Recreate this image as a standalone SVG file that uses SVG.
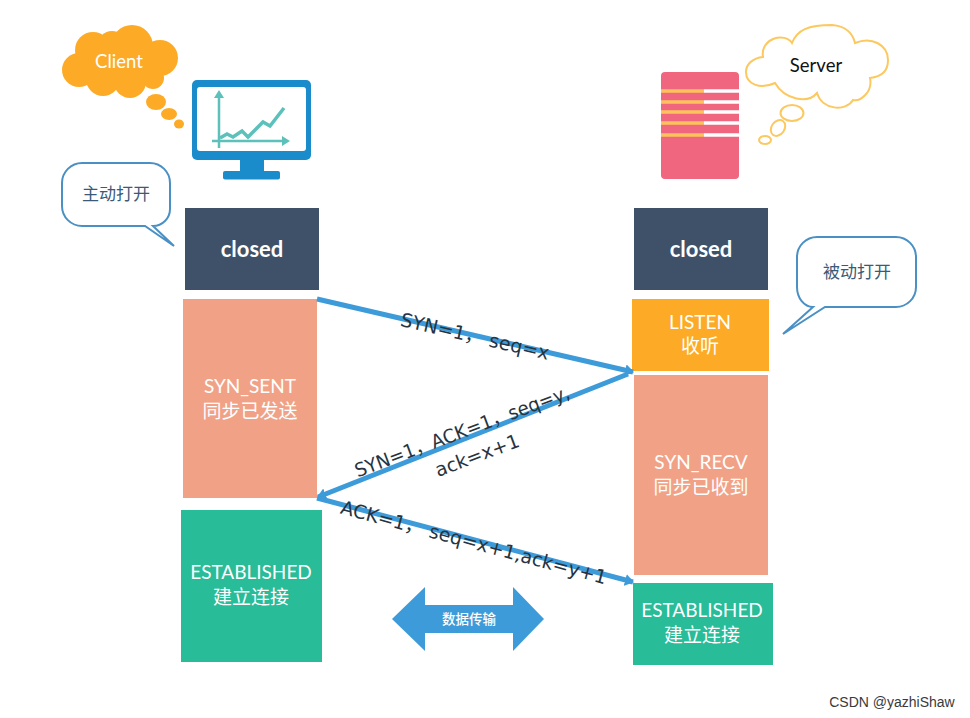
<svg xmlns="http://www.w3.org/2000/svg" width="970" height="718" viewBox="0 0 970 718">
<defs>
<marker id="ah" markerUnits="userSpaceOnUse" markerWidth="10" markerHeight="12" refX="8" refY="6" orient="auto"><path d="M0,0 L9,6 L0,12 Z" fill="#3d9bd9"/></marker>
</defs>
<style>
text{font-family:Lato,"Noto Sans CJK SC",sans-serif;text-anchor:middle}
.w{fill:#fff;font-size:19px}
.t{fill:#fff;font-size:22px;font-weight:700}
.l{fill:#27343f;font-size:19px;font-family:"DejaVu Sans","Noto Sans CJK SC",sans-serif}
.c{fill:#3a5a78;font-size:17px}
.call{fill:#fff;stroke:#4a90c4;stroke-width:2}
.conn{fill:none;stroke:#3d9bd9;stroke-width:5;marker-end:url(#ah)}
</style>
<rect width="970" height="718" fill="#fff"/>
<g id="client-cloud" fill="#fdab27">
<circle cx="79" cy="70" r="17"/><circle cx="93" cy="50" r="18"/><circle cx="112" cy="45" r="14"/><circle cx="132" cy="46" r="21"/><circle cx="160" cy="58" r="18"/><circle cx="153" cy="78" r="11"/><circle cx="130" cy="82" r="16"/><circle cx="103" cy="79" r="17"/><circle cx="115" cy="63" r="27"/><circle cx="140" cy="66" r="20"/>
<ellipse cx="156" cy="102" rx="10" ry="8"/><ellipse cx="169" cy="114" rx="8" ry="6"/><ellipse cx="179" cy="124" rx="5" ry="4.500"/>
<text x="119" y="68" style="fill:#fff;font-size:18.500px">Client</text>
</g>
<g id="monitor">
<rect x="192" y="80" width="119" height="80" rx="5" fill="#1a8ccb"/>
<rect x="197" y="87" width="109" height="64" rx="3" fill="#fff"/>
<rect x="240" y="159" width="24" height="13" fill="#1a8ccb"/><rect x="223" y="171" width="57" height="8.500" rx="2" fill="#1a8ccb"/>
<g fill="none" stroke="#5cc0bb">
<path d="M219,94 V148 M212,141 H286" stroke-width="2.500"/>
<path d="M220,138 L227,134 L233,137 L242,131 L248,137 L263,122 L270,126 L284,108" stroke-width="3.500"/>
</g>
<path d="M219,90 L224,98 H214 Z M290,141 L282,136 V146 Z" fill="#5cc0bb"/>
</g>
<g id="server">
<rect x="661" y="72" width="78" height="107" rx="4" fill="#f0667f"/>
<g stroke-width="3.500"><path d="M661,91 H704 M661,102 H704 M661,112 H704 M661,123 H704 M661,135 H704" stroke="#fcc35c"/><path d="M704,91 H739 M704,102 H739 M704,112 H739 M704,123 H739 M704,135 H739" stroke="#fff"/></g>
</g>
<g id="server-cloud" fill="#fff" stroke="#fcc860" stroke-width="2">
<path d="M763,57 C760,38 785,32 792,43 C797,30 808,25 832,25 C846,26 853,34 855,43 C872,36 888,45 888,60 C888,72 880,77 870,78 C873,92 860,102 853,100 C846,112 822,110 817,93 C808,104 785,100 775,83 C760,90 746,84 746,72 C746,64 753,58 763,57 Z"/>
<ellipse cx="792" cy="113" rx="11.500" ry="8"/><ellipse cx="778" cy="128" rx="6.500" ry="8.500" transform="rotate(35 778 128)"/><ellipse cx="765" cy="140" rx="6" ry="4"/>
<text x="816" y="72" style="fill:#111;font-size:18.500px;stroke:none">Server</text>
</g>
<g id="callout-left">
<path class="call" d="M82,163 H150 A20,20 0 0 1 170,183 V209 A17,17 0 0 1 153,226 L174,246 L145,226 H82 A20,20 0 0 1 62,206 V183 A20,20 0 0 1 82,163 Z"/>
<text class="c" x="116" y="200">主动打开</text>
</g>
<g id="callout-right">
<path class="call" d="M817,237 H896 A20,20 0 0 1 916,257 V287 A20,20 0 0 1 896,307 H825 L783,334 L813,307 A16,20 0 0 1 797,287 V257 A20,20 0 0 1 817,237 Z"/>
<text class="c" x="857" y="278">被动打开</text>
</g>
<g id="closed-left"><rect x="185" y="208" width="134" height="82" fill="#3e5169"/><text class="t" x="252" y="257">closed</text></g>
<g id="syn-sent"><rect x="183" y="299" width="134" height="199" fill="#f1a286"/><text class="w" x="250" y="393">SYN_SENT</text><text class="w" x="250" y="418">同步已发送</text></g>
<g id="established-left"><rect x="181" y="510" width="141" height="152" fill="#28bc98"/><text class="w" x="251" y="579">ESTABLISHED</text><text class="w" x="251" y="604">建立连接</text></g>
<g id="closed-right"><rect x="634" y="208" width="134" height="82" fill="#3e5169"/><text class="t" x="701" y="257">closed</text></g>
<g id="listen"><rect x="632" y="299" width="137" height="72" fill="#fdab27"/><text class="w" x="700" y="329">LISTEN</text><text class="w" x="700" y="353">收听</text></g>
<g id="syn-recv"><rect x="634" y="375" width="134" height="200" fill="#f1a286"/><text class="w" x="701" y="469">SYN_RECV</text><text class="w" x="701" y="494">同步已收到</text></g>
<g id="established-right"><rect x="633" y="583" width="140" height="82" fill="#28bc98"/><text class="w" x="702" y="617">ESTABLISHED</text><text class="w" x="702" y="642">建立连接</text></g>
<g id="connectors">
<line class="conn" x1="317" y1="299" x2="633" y2="372"/>
<line class="conn" x1="628" y1="374" x2="318" y2="497"/>
<line class="conn" x1="317" y1="498" x2="633" y2="582"/>
</g>
<g id="labels">
<text class="l" transform="translate(475,336) rotate(13)" y="7">SYN=1， seq=x</text>
<text class="l" transform="translate(462,431) rotate(-20.500)" y="7" textLength="228" lengthAdjust="spacingAndGlyphs">SYN=1，ACK=1，seq=y,</text>
<text class="l" transform="translate(477,455) rotate(-20.500)" y="7">ack=x+1</text>
<text class="l" transform="translate(474,542) rotate(15)" y="7">ACK=1， seq=x+1,ack=y+1</text>
</g>
<g id="data-arrow">
<path d="M392,619 L425,587 V605 H513 V587 L544,619 L513,651 V633 H425 V651 Z" fill="#3d9bd9"/>
<text x="469" y="624" style="fill:#fff;font-size:13.500px;font-weight:500">数据传输</text>
</g>
<text x="892" y="707" style="fill:#3a3a3a;font-size:14px;font-family:'Liberation Sans',sans-serif">CSDN @yazhiShaw</text>
</svg>
